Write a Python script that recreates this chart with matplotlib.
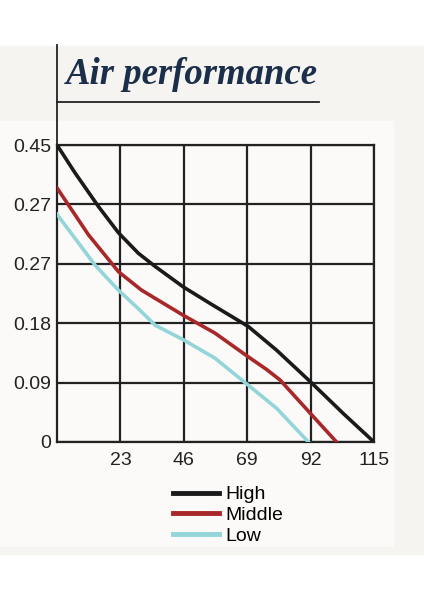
import matplotlib.pyplot as plt
from matplotlib.patches import Rectangle
from matplotlib.lines import Line2D

plt.rcParams['font.family'] = ['Liberation Sans', 'DejaVu Sans']

# values
high_x = [0, 6.5, 15, 22.3, 29.5, 35.6, 45.8, 55.5, 69.4, 79.7, 92, 103.9, 115]
high_y = [0.45, 0.408, 0.357, 0.317, 0.286, 0.266, 0.235, 0.210, 0.175, 0.139, 0.091, 0.043, 0.0]

mid_x = [0, 11.4, 22.3, 30.7, 45.8, 57.3, 69.4, 76, 80.9, 92, 101.4]
mid_y = [0.385, 0.314, 0.258, 0.230, 0.192, 0.165, 0.129, 0.110, 0.094, 0.043, 0.0]

low_x = [0, 13.8, 22.3, 29, 35.6, 45.8, 57.3, 69.4, 79.7, 91.2]
low_y = [0.345, 0.268, 0.230, 0.204, 0.177, 0.155, 0.127, 0.086, 0.051, 0.0]

x_ticks = [23, 46, 69, 92, 115]
y_ticks = [0, 0.09, 0.18, 0.27, 0.36, 0.45]
y_labels = ["0", "0.09", "0.18", "0.27", "0.27", "0.45"]

series = [("High", high_x, high_y, "#1a1a1a"),
          ("Middle", mid_x, mid_y, "#a8282a"),
          ("Low", low_x, low_y, "#93d5d9")]

W, H = 424, 600
fig = plt.figure(figsize=(W / 100, H / 100), dpi=100, facecolor="white")

# backgrounds (pixel boxes -> figure fractions)
def px_rect(x0, y0, x1, y1, color):
    fig.patches.append(Rectangle((x0 / W, 1 - y1 / H), (x1 - x0) / W, (y1 - y0) / H,
                                 transform=fig.transFigure, color=color, zorder=-5))

px_rect(0, 46, 424, 554, "#f6f4f1")
px_rect(0, 121, 393, 546, "#fbfaf8")

ax = fig.add_axes([57 / W, 1 - 442 / H, 317 / W, 297 / H])
ax.set_facecolor("none")
ax.set_zorder(2)

for name, xs, ys, c in series:
    ax.plot(xs, ys, color=c, lw=2.6, solid_joinstyle="round", zorder=3)

ax.set_xlim(0, 115)
ax.set_ylim(0, 0.45)
ax.set_xticks(x_ticks)
ax.set_yticks(y_ticks)
ax.set_yticklabels(y_labels)
ax.tick_params(length=0, labelsize=14, colors="#222222")
ax.tick_params(axis="x", pad=7)
ax.tick_params(axis="y", pad=4)
ax.grid(True, color="#222222", lw=1.6)
ax.set_axisbelow(True)
for s in ax.spines.values():
    s.set_color("#222222")
    s.set_linewidth(1.6)

# vertical line running up from the y axis and title underline
fig.add_artist(Line2D([57 / W, 57 / W], [1 - 45 / H, 1 - 145 / H], color="#222222", lw=1.3))
fig.add_artist(Line2D([57 / W, 319 / W], [1 - 102 / H, 1 - 102 / H], color="#222222", lw=1.3))

fig.text(66 / W, 1 - 75 / H, "Air performance", family="Liberation Serif", style="italic",
         weight="bold", fontsize=26.5, color="#1b2f4b", va="center", ha="left")

handles = [Line2D([], [], color=c, lw=3.5) for _, _, _, c in series]
fig.legend(handles, [s[0] for s in series], loc="upper left",
           bbox_to_anchor=(163 / W, 1 - 476 / H), frameon=False, fontsize=14,
           handlelength=2.37, handletextpad=0.36, labelspacing=0.17, borderpad=0)

fig.savefig("out.png", dpi=100, facecolor="white")
